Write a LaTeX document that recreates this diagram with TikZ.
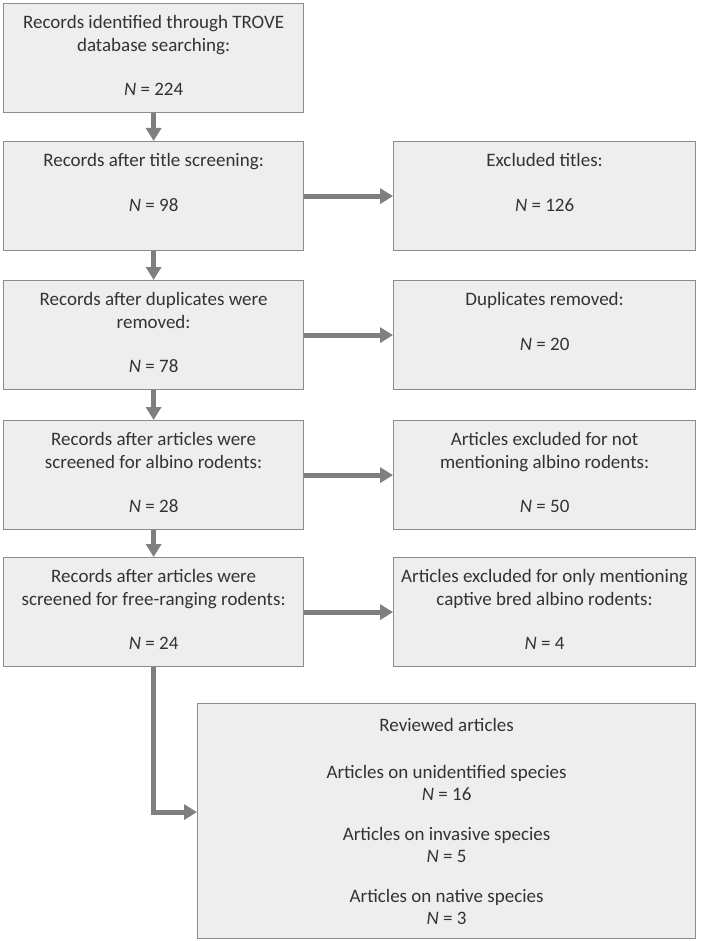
\documentclass[tikz,border=0pt]{standalone}
\usepackage{fontspec}
\setmainfont{Carlito}
\usepackage{xcolor}
\usepackage{tikz}
\usetikzlibrary{arrows.meta, positioning}

\definecolor{boxfill}{HTML}{EEEEEE}
\definecolor{boxline}{HTML}{8C8C8C}
\definecolor{arrowgray}{HTML}{7F7F7F}
\definecolor{textgray}{HTML}{333333}

\newcommand{\boxtext}[3]{\parbox[t][#2][t]{#1}{\centering #3}}

\tikzset{
  flowbox/.style={draw=boxline, fill=boxfill, line width=1.2pt, inner xsep=0pt, inner ysep=12pt,
    anchor=north west, text=textgray, font=\fontsize{19}{22.5}\selectfont},
  flowarrow/.style={draw=arrowgray, line width=5pt, -{Triangle[length=13pt, width=15pt]}},
}

\begin{document}
\begin{tikzpicture}[x=1pt, y=-1pt]
  \useasboundingbox (0,0) rectangle (709,941);

  % main column
  \node[flowbox] (rec) at (3,3) {\boxtext{300pt}{85pt}{Records identified through TROVE\\ database searching:\\[22pt] \textit{N} = 224}};
  \node[flowbox] (title) at (3,141) {\boxtext{300pt}{85pt}{Records after title screening:\\[22pt] \textit{N} = 98}};
  \node[flowbox] (dupl) at (3,280) {\boxtext{300pt}{85pt}{Records after duplicates were\\ removed:\\[22pt] \textit{N} = 78}};
  \node[flowbox] (albino) at (3,420) {\boxtext{300pt}{85pt}{Records after articles were\\ screened for albino rodents:\\[22pt] \textit{N} = 28}};
  \node[flowbox] (free) at (3,557) {\boxtext{300pt}{85pt}{Records after articles were\\ screened for free-ranging rodents:\\[22pt] \textit{N} = 24}};

  % exclusions
  \node[flowbox] (extitle) at (393,141) {\boxtext{302pt}{85pt}{Excluded titles:\\[22pt] \textit{N} = 126}};
  \node[flowbox] (exdupl) at (393,280) {\boxtext{302pt}{85pt}{Duplicates removed:\\[22pt] \textit{N} = 20}};
  \node[flowbox] (exalbino) at (393,420) {\boxtext{302pt}{85pt}{Articles excluded for not\\ mentioning albino rodents:\\[22pt] \textit{N} = 50}};
  \node[flowbox] (excaptive) at (393,557) {\boxtext{302pt}{85pt}{Articles excluded for only mentioning\\ captive bred albino rodents:\\[22pt] \textit{N} = 4}};

  % result
  \node[flowbox] (review) at (197,703) {\boxtext{498pt}{211pt}{\vspace*{3pt}Reviewed articles\\[24pt]
    Articles on unidentified species\\ \textit{N} = 16\\[17pt]
    Articles on invasive species\\ \textit{N} = 5\\[17pt]
    Articles on native species\\ \textit{N} = 3}};

  \draw[flowarrow] (rec) -- (title);
  \draw[flowarrow] (title) -- (dupl);
  \draw[flowarrow] (dupl) -- (albino);
  \draw[flowarrow] (albino) -- (free);

  \draw[flowarrow] (title) -- (extitle);
  \draw[flowarrow] (dupl) -- (exdupl);
  \draw[flowarrow] (albino) -- (exalbino);
  \draw[flowarrow] (free) -- (excaptive);

  \draw[flowarrow] (free.south) |- ([yshift=9pt]review.west);
\end{tikzpicture}
\end{document}
